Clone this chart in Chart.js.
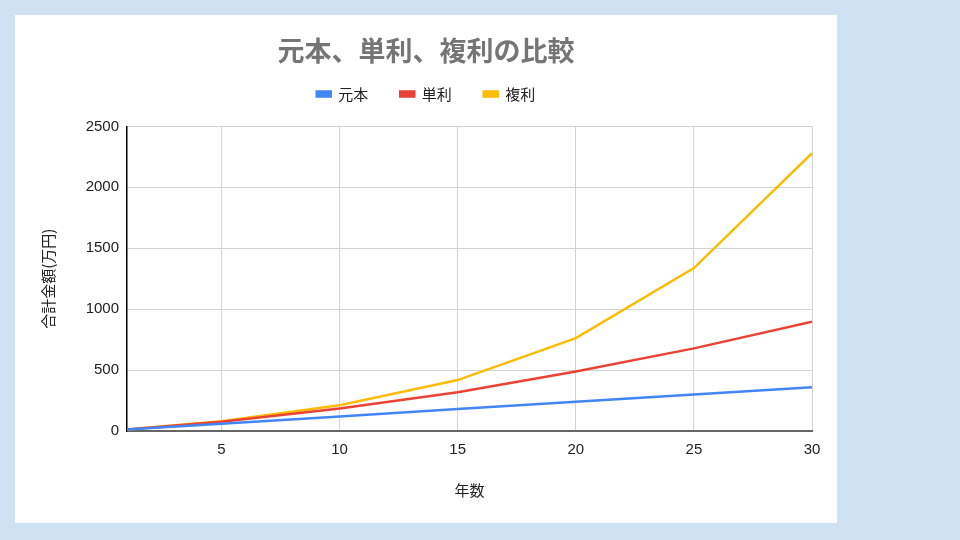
<!DOCTYPE html>
<html><head><meta charset="utf-8">
<script src="https://cdn.jsdelivr.net/npm/chart.js@4"></script>
<style>
html,body{margin:0;padding:0;background:#cfe2f3;width:960px;height:540px;overflow:hidden;}
#card{position:absolute;left:15px;top:15px;width:822px;height:508px;background:#fff;}
canvas{display:block;}
</style></head><body>
<div id="card"><canvas id="c" width="822" height="508"></canvas></div>
<script>
const years = [1, 5, 10, 15, 20, 25, 30];
const principal = [12, 60, 120, 180, 240, 300, 360];
const simple = [13, 76, 184, 318, 488, 678, 896];
const compound = [13, 80, 212, 418, 762, 1337, 2280];
const xTicks = [5, 10, 15, 20, 25, 30];
const labels = ['元本', '単利', '複利'];
const colors = ['#4285f4', '#ea4335', '#fbbc04'];
const FONT = "'Liberation Sans', Arial, 'Noto Sans CJK JP', sans-serif";
const CJK = "'Noto Sans CJK JP', sans-serif";

const mk = (arr) => years.map((x, i) => ({x: x, y: arr[i]}));
const series = [principal, simple, compound];

const legendPad = {
  id: 'legendPad',
  beforeLayout(chart) {
    const lg = chart.legend;
    if (lg && !lg._patched) {
      const orig = lg.fit;
      lg.fit = function () { orig.call(this); this.height = 72; };
      lg._patched = true;
    }
  }
};

new Chart(document.getElementById('c'), {
  type: 'line',
  data: {
    datasets: series.map((s, i) => ({
      label: labels[i], data: mk(s), borderColor: colors[i], backgroundColor: colors[i],
      borderWidth: 2.5, pointRadius: 0, tension: 0
    }))
  },
  plugins: [legendPad],
  options: {
    responsive: false, animation: false,
    layout: {padding: 0},
    plugins: {
      title: {display: true, text: '元本、単利、複利の比較', color: '#757575',
        font: {family: CJK, size: 27, weight: 'bold'},
        padding: {top: 20, bottom: -13}},
      legend: {position: 'top', labels: {boxWidth: 14, boxHeight: 5, color: '#222',
        font: {family: CJK, size: 15}, padding: 32}},
      tooltip: {enabled: false}
    },
    scales: {
      x: {type: 'linear', min: 1, max: 30,
        afterBuildTicks: (s) => { s.ticks = xTicks.map(v => ({value: v})); },
        afterFit: (s) => { s.height = 92; },
        grid: {color: '#d3d3d3', lineWidth: 1, drawTicks: false},
        border: {color: '#666666', width: 2},
        ticks: {color: '#222', font: {family: FONT, size: 15}, padding: 10},
        title: {display: true, text: '年数', color: '#222', font: {family: CJK, size: 15}, padding: {top: 4, bottom: 24}}
      },
      y: {min: 0, max: 2500,
        afterFit: (s) => { s.width = 112; },
        grid: {color: '#d3d3d3', lineWidth: 1, drawTicks: false},
        border: {color: '#000000', width: 1.5},
        ticks: {stepSize: 500, color: '#222', font: {family: FONT, size: 15}, padding: 8,
          callback: (v) => String(v)},
        title: {display: true, text: '合計金額(万円)', color: '#222', font: {family: CJK, size: 15}, padding: {top: 24, bottom: 0}}
      },
      yRight: {position: 'right', display: true,
        afterFit: (s) => { s.width = 25; },
        grid: {display: false, drawOnChartArea: false}, border: {display: false},
        ticks: {display: false}
      }
    }
  }
});
</script></body></html>
